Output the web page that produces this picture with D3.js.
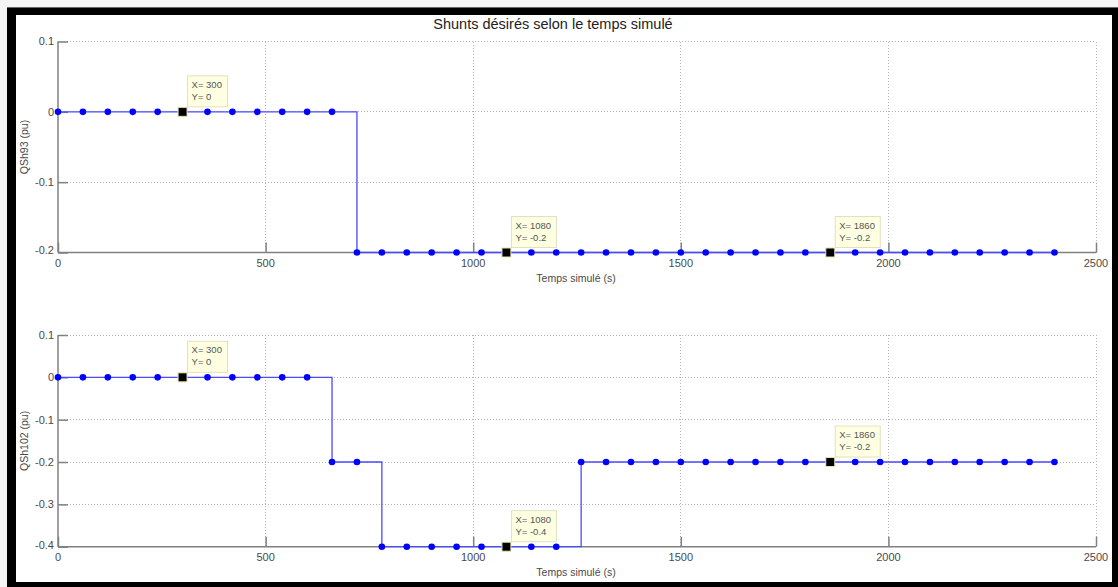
<!DOCTYPE html>
<html>
<head>
<meta charset="utf-8">
<script src="https://cdn.jsdelivr.net/npm/d3@7"></script>
<style>
  html, body { margin: 0; padding: 0; background: #f4f4f4; }
  svg { display: block; font-family: "Liberation Sans", Arial, Helvetica, sans-serif; }
</style>
</head>
<body>
<svg id="chart" width="1118" height="587"></svg>
<script>
// Sample times (s), one every 60 s
const times = d3.range(0, 2401, 60);

// Desired shunt settings (pu) at each sample time
const qsh93 = [
  0, 0, 0, 0, 0, 0, 0, 0, 0, 0, 0, 0,
  -0.2, -0.2, -0.2, -0.2, -0.2, -0.2, -0.2, -0.2, -0.2, -0.2,
  -0.2, -0.2, -0.2, -0.2, -0.2, -0.2, -0.2, -0.2, -0.2, -0.2,
  -0.2, -0.2, -0.2, -0.2, -0.2, -0.2, -0.2, -0.2, -0.2
];
const qsh102 = [
  0, 0, 0, 0, 0, 0, 0, 0, 0, 0, 0,
  -0.2, -0.2,
  -0.4, -0.4, -0.4, -0.4, -0.4, -0.4, -0.4, -0.4,
  -0.2, -0.2, -0.2, -0.2, -0.2, -0.2, -0.2, -0.2, -0.2, -0.2,
  -0.2, -0.2, -0.2, -0.2, -0.2, -0.2, -0.2, -0.2, -0.2, -0.2
];

// Axis ticks
const xTicks = [0, 500, 1000, 1500, 2000, 2500];
const yTicksTop = [0.1, 0, -0.1, -0.2];
const yTicksBottom = [0.1, 0, -0.1, -0.2, -0.3, -0.4];

// Data tips shown on each panel
const tipsTop = [300, 1080, 1860];
const tipsBottom = [300, 1080, 1860];

const titleText = "Shunts désirés selon le temps simulé";
const xLabelText = "Temps simulé (s)";

const svg = d3.select("#chart");

// Figure frame
svg.append("rect").attr("x", 7).attr("y", 7).attr("width", 1111).attr("height", 580).attr("fill", "#000");
svg.append("rect").attr("x", 16).attr("y", 15).attr("width", 1096).attr("height", 567).attr("fill", "#fff");
svg.append("line").attr("x1", 7).attr("x2", 1118).attr("y1", 7.5).attr("y2", 7.5).attr("stroke", "#666");

const x = d3.scaleLinear().domain([0, 2500]).range([58, 1096]);

const panels = [
  { values: qsh93, yTicks: yTicksTop, domain: [-0.2, 0.1], range: [252.5, 41.5], label: "QSh93 (pu)", tips: tipsTop },
  { values: qsh102, yTicks: yTicksBottom, domain: [-0.4, 0.1], range: [546.7, 335], label: "QSh102 (pu)", tips: tipsBottom }
];

const axisColor = "#808080";
const textColor = "#4a4a4a";
const gridColor = "#b4b4b4";

panels.forEach(p => {
  const y = d3.scaleLinear().domain(p.domain).range(p.range);
  const g = svg.append("g");
  const [yBottom, yTop] = p.range;

  // Grid lines
  g.append("g").selectAll("line").data(xTicks.slice(1)).join("line")
    .attr("x1", d => x(d)).attr("x2", d => x(d))
    .attr("y1", yTop).attr("y2", yBottom)
    .attr("stroke", gridColor).attr("stroke-width", 1).attr("stroke-dasharray", "1,2")
    .attr("shape-rendering", "crispEdges");
  g.append("g").selectAll("line").data(p.yTicks.slice(0, -1)).join("line")
    .attr("x1", x(0)).attr("x2", x(2500))
    .attr("y1", d => y(d)).attr("y2", d => y(d))
    .attr("stroke", gridColor).attr("stroke-width", 1).attr("stroke-dasharray", "1,2")
    .attr("shape-rendering", "crispEdges");

  // X axis with inward ticks
  const xAxis = d3.axisTop(x).tickValues(xTicks).tickSize(10).tickFormat("");
  const gx = g.append("g").attr("transform", `translate(0,${yBottom})`).call(xAxis);
  gx.selectAll("path, line").attr("stroke", axisColor).attr("stroke-width", 1.5);
  gx.select(".domain").attr("d", `M${x(0)},0H${x(2500)}`);
  g.append("g").selectAll("text").data(xTicks).join("text")
    .attr("x", d => x(d)).attr("y", yBottom + 14)
    .attr("text-anchor", "middle").attr("font-size", 11).attr("fill", textColor)
    .text(d => d);

  // Y axis with inward ticks
  const yAxis = d3.axisRight(y).tickValues(p.yTicks).tickSize(10).tickFormat("");
  const gy = g.append("g").attr("transform", `translate(${x(0)},0)`).call(yAxis);
  gy.selectAll("path, line").attr("stroke", axisColor).attr("stroke-width", 1.5);
  gy.select(".domain").attr("d", `M0,${yBottom}V${yTop}`);
  g.append("g").selectAll("text").data(p.yTicks).join("text")
    .attr("x", x(0) - 4).attr("y", d => y(d) - (d === p.domain[0] ? 2 : 0))
    .attr("dy", "0.35em")
    .attr("text-anchor", "end").attr("font-size", 11).attr("fill", textColor)
    .text(d => String(d));

  // Axis labels
  g.append("text")
    .attr("transform", `translate(28,${(yTop + yBottom) / 2}) rotate(-90)`)
    .attr("text-anchor", "middle").attr("font-size", 10.5).attr("fill", textColor)
    .text(p.label);
  g.append("text")
    .attr("x", 576).attr("y", yBottom + 29)
    .attr("text-anchor", "middle").attr("font-size", 10.5).attr("fill", textColor)
    .text(xLabelText);

  // Stair-step line
  const pts = times.map((t, i) => ({ t, v: p.values[i] }));
  const line = d3.line().x(d => x(d.t)).y(d => y(d.v)).curve(d3.curveStepAfter);
  g.append("path").datum(pts)
    .attr("d", line).attr("fill", "none")
    .attr("stroke", "#4a4aff").attr("stroke-width", 1.3);

  // Sample markers
  g.append("g").selectAll("circle").data(pts).join("circle")
    .attr("cx", d => x(d.t)).attr("cy", d => y(d.v)).attr("r", 3.3)
    .attr("fill", "#0000ff");

  // Data tips
  p.tips.forEach(t => {
    const v = p.values[times.indexOf(t)];
    const cx = x(t), cy = y(v);
    const tip = g.append("g");
    tip.append("rect")
      .attr("x", cx - 4.5).attr("y", cy - 4.5).attr("width", 9).attr("height", 9)
      .attr("fill", "#000").attr("stroke", "#e8e6b0").attr("stroke-width", 1);
    const lines = [`X= ${t}`, `Y= ${v}`];
    const bx = cx + 5, by = cy - 36;
    const txt = tip.append("text").attr("font-size", 9.5).attr("fill", "#555");
    lines.forEach((s, i) => {
      txt.append("tspan").attr("x", bx + 4).attr("y", by + 12 + i * 12).text(s);
    });
    const bbox = txt.node().getBBox();
    tip.insert("rect", "text")
      .attr("x", bx).attr("y", by)
      .attr("width", Math.ceil(bbox.width) + 9).attr("height", 31)
      .attr("fill", "#ffffe1").attr("stroke", "#e2e0c0").attr("stroke-width", 1);
  });
});

// Figure title
svg.append("text")
  .attr("x", 553).attr("y", 29)
  .attr("text-anchor", "middle").attr("font-size", 14.5).attr("fill", "#222")
  .text(titleText);
</script>
</body>
</html>
